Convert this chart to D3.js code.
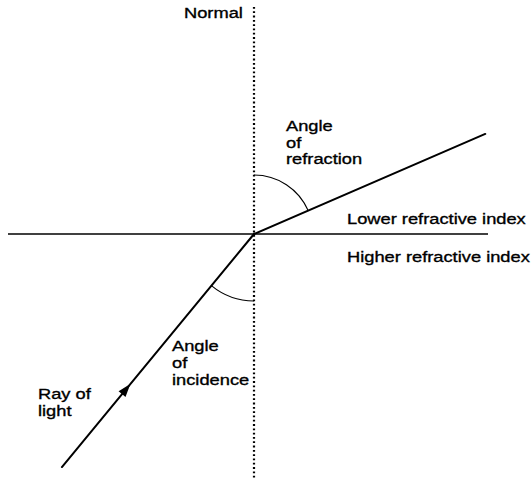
<!DOCTYPE html>
<html>
<head>
<meta charset="utf-8">
<script src="https://cdn.jsdelivr.net/npm/d3@7"></script>
<style>
  body { margin: 0; background: #fff; }
  text { font-family: "Liberation Sans", Arial, sans-serif; font-size: 15.5px; fill: #000; stroke: #000; stroke-width: 0.35px; }
</style>
</head>
<body>
<div id="chart"></div>
<script>
// angles in degrees, measured from the normal
const rayNames = ['incident', 'refracted'];
const rayAngles = [39.5, 66.6];
const rayLengths = [302, 252];
const arcRadii = [67, 59];
const interfaceExtent = [-246, 234];
const normalExtent = [-245, 227];
const normalLabel = ['Normal'];
const mediumLabels = ['Lower refractive index', 'Higher refractive index'];
const refractionLabel = ['Angle', 'of', 'refraction'];
const incidenceLabel = ['Angle', 'of', 'incidence'];
const rayLabel = ['Ray of', 'light'];

const width = 532;
const height = 479;

const svg = d3.select('#chart')
    .append('svg')
    .attr('width', width)
    .attr('height', height);

// origin at the point where the ray meets the surface
const x = d3.scaleLinear().domain([0, 100]).range([254, 354]);
const y = d3.scaleLinear().domain([0, 100]).range([234, 134]);

const rad = (d) => d * Math.PI / 180;

// normal (dotted)
svg.append('line')
    .attr('x1', x(0)).attr('x2', x(0))
    .attr('y1', y(normalExtent[1])).attr('y2', y(normalExtent[0]))
    .attr('stroke', '#000')
    .attr('stroke-width', 2.2)
    .attr('stroke-dasharray', '1.8,2.5');

// surface between the two media
svg.append('line')
    .attr('x1', x(interfaceExtent[0])).attr('x2', x(interfaceExtent[1]))
    .attr('y1', y(0)).attr('y2', y(0))
    .attr('stroke', '#000')
    .attr('stroke-width', 1.4);

// rays: incident comes from below-left, refracted leaves to the upper right
const rayEnd = (i) => {
    const a = rad(rayAngles[i]);
    const L = rayLengths[i];
    return i === 0
        ? [-L * Math.sin(a), -L * Math.cos(a)]
        : [L * Math.sin(a), L * Math.cos(a)];
};

rayNames.forEach((name, i) => {
    const e = rayEnd(i);
    svg.append('line')
        .attr('class', name)
        .attr('x1', x(e[0])).attr('y1', y(e[1]))
        .attr('x2', x(0)).attr('y2', y(0))
        .attr('stroke', '#000')
        .attr('stroke-width', 2)
        .attr('stroke-linecap', 'round');
});

// arrow on the incident ray
const inc = rayEnd(0);
const t = 0.667;
const ax = x(inc[0] * t);
const ay = y(inc[1] * t);
const dirDeg = Math.atan2(y(0) - y(inc[1]), x(0) - x(inc[0])) * 180 / Math.PI;
svg.append('path')
    .attr('d', 'M7,0 L-6,-4.5 L-6,4.5 Z')
    .attr('transform', `translate(${ax},${ay}) rotate(${dirDeg})`)
    .attr('fill', '#000');

// angle arcs
const arcPath = (r, a0, a1) => {
    const p = d3.path();
    const rp = x(r) - x(0);
    p.moveTo(x(0) + rp * Math.cos(a0), y(0) + rp * Math.sin(a0));
    p.arc(x(0), y(0), rp, a0, a1);
    return p.toString();
};
svg.append('path')
    .attr('d', arcPath(arcRadii[1], rad(-90), rad(-90 + rayAngles[1])))
    .attr('fill', 'none').attr('stroke', '#000').attr('stroke-width', 1.1);
svg.append('path')
    .attr('d', arcPath(arcRadii[0], rad(90), rad(90 + rayAngles[0])))
    .attr('fill', 'none').attr('stroke', '#000').attr('stroke-width', 1.1);

// labels (scan type is a little wide, so stretch horizontally)
const sx = 1.18;
function label(lines, px, py, lh) {
    const g = svg.append('text')
        .attr('transform', `translate(${px},${py}) scale(${sx},1)`);
    lines.forEach((s, i) => {
        g.append('tspan').attr('x', 0).attr('y', i * lh).text(s);
    });
}

label(normalLabel, 184, 18, 0);
label([mediumLabels[0]], 347, 224, 0);
label([mediumLabels[1]], 347, 262, 0);
label(refractionLabel, 286, 131, 16.7);
label(incidenceLabel, 172, 351, 17);
label(rayLabel, 38, 399, 17.5);
</script>
</body>
</html>
